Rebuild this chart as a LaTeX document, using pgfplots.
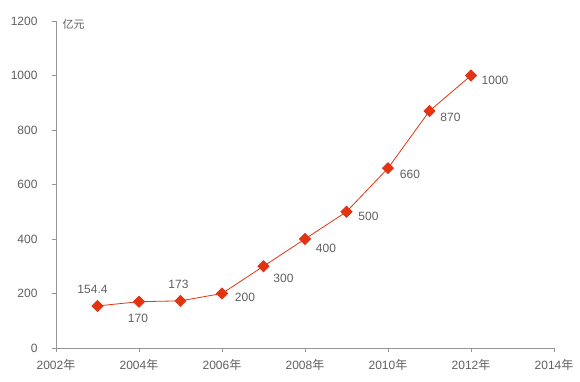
\documentclass[border=0pt]{standalone}
\usepackage{pgfplots}
\pgfplotsset{compat=1.18}
\usepackage{pgfplotstable}
\usepackage{fontspec}
\setmainfont{Liberation Sans}
\newfontfamily\cjk{Noto Sans CJK SC}
\definecolor{linered}{RGB}{226,52,18}
\definecolor{txtgray}{RGB}{95,95,95}
\definecolor{axgray}{RGB}{150,150,150}
\pgfplotstableread{
year value label dx dy
2003 154.4 154.4 -5 16
2004 170 170 -1 -17
2005 173 173 -2 16
2006 200 200 23 -4
2007 300 300 20 -12
2008 400 400 21 -9
2009 500 500 22 -5
2010 660 660 22 -6
2011 870 870 21 -6
2012 1000 1000 24 -5
}\datatable
\begin{document}
\begin{tikzpicture}[x=1pt,y=1pt]
\path[use as bounding box] (-56,-33) rectangle (524,348);
\begin{axis}[
  at={(0,0)}, anchor=south west,
  scale only axis, width=498pt, height=327pt,
  xmin=2002, xmax=2014, ymin=0, ymax=1200,
  xtick={2002,2004,...,2014},
  xticklabels={2002{\cjk 年},2004{\cjk 年},2006{\cjk 年},2008{\cjk 年},2010{\cjk 年},2012{\cjk 年},2014{\cjk 年}},
  ytick={0,200,...,1200},
  axis x line*=bottom, axis y line*=left,
  axis line style={axgray, line width=0.6pt, -},
  tick style={axgray, line width=0.6pt},
  tick align=outside, major tick length=4pt,
  /pgf/number format/assume math mode=true,
  yticklabel style={font=\fontsize{12}{14}\selectfont, text=txtgray, xshift=-11pt},
  xticklabel style={font=\fontsize{12}{14}\selectfont, text=txtgray, yshift=-4pt},
  scaled y ticks=false,
  yticklabel={\pgfmathprintnumber[fixed,1000 sep={}]{\tick}},
  clip=false,
]
\addplot[linered, line width=0.8pt, mark=square*, mark size=3.9pt,
  mark options={rotate=45, fill=linered, draw=linered},
  point meta=explicit symbolic,
  visualization depends on={\thisrow{dx} \as \dx},
  visualization depends on={\thisrow{dy} \as \dy},
  nodes near coords,
  every node near coord/.append style={anchor=center, xshift=\dx pt, yshift=\dy pt, font=\fontsize{12}{14}\selectfont, text=txtgray},
] table[x=year, y=value, meta=label] {\datatable};
\node[anchor=west, text=txtgray, font=\cjk\fontsize{11}{13}\selectfont] at (rel axis cs:0,1) [xshift=3pt, yshift=-3pt] {亿元};
\end{axis}
\end{tikzpicture}
\end{document}
